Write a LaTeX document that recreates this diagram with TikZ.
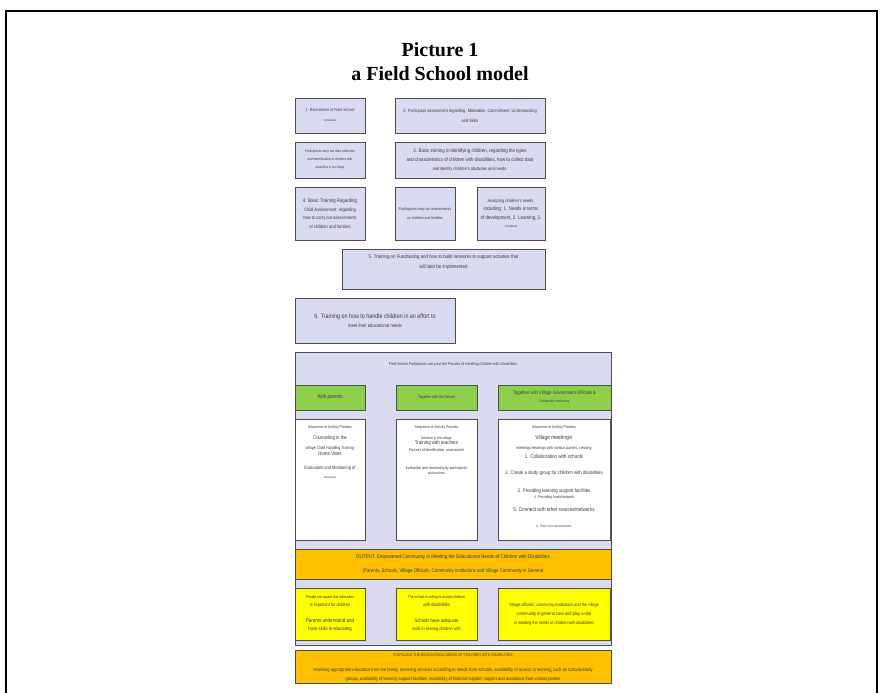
\documentclass[tikz,border=0pt]{standalone}
\usepackage{fontspec}
\setmainfont{Liberation Serif}
\setsansfont[FakeStretch=0.84]{Liberation Sans}
\definecolor{lavfill}{HTML}{D9DCF0}
\definecolor{edgegray}{HTML}{4E4E4E}
\definecolor{txtgray}{HTML}{3A3A3A}
\definecolor{leafgreen}{HTML}{8DCF4A}
\definecolor{ambr}{HTML}{FFC000}
\definecolor{lemon}{HTML}{FFFF00}
\newcommand\fz[2]{\fontsize{#1}{#2}\selectfont}
\newcommand\sz[2]{\sffamily\fontsize{#1}{#2}\selectfont}

\tikzset{
  every node/.style={font=\sffamily, text=txtgray},
  lavbox/.style={draw=edgegray, fill=lavfill, line width=1pt, align=center, inner sep=1pt},
  panel/.style={draw=edgegray, fill=lavfill, line width=0.8pt},
  greenbox/.style={draw=edgegray, fill=leafgreen, line width=1pt, align=center, inner sep=1pt},
  whitebox/.style={draw=edgegray, fill=white, line width=1pt},
  yellowbox/.style={draw=edgegray, fill=lemon, line width=1pt, align=center, inner sep=1pt},
  amberbox/.style={draw=edgegray, fill=ambr, line width=1pt, align=center, inner sep=1pt},
  inlist/.style={align=center, inner sep=0pt, anchor=north}
}

\begin{document}
\begin{tikzpicture}[x=1pt, y=-1pt]
\useasboundingbox (0,0) rectangle (881,693);
% frame round the figure
\draw [line width=2pt] (6,700) -- (6,11) -- (877,11) -- (877,700);

\node [font=\rmfamily\bfseries\fz{20}{24}, text=black] (ttl) at (440,50) {Picture 1};
\node [font=\rmfamily\bfseries\fz{20}{24}, text=black] (subttl) at (440,74) {a Field School model};

% training steps
\node [lavbox, font=\sz{4.3}{10}, minimum width=70, minimum height=35] (recruit) at (330,115.5)
  {1. Recruitment of Field School\\\fz{2.8}{10}Participants};
\node [lavbox, font=\sz{4.6}{10}, minimum width=150, minimum height=35] (assess) at (470,115.5)
  {2. Participant assessment regarding: Motivation, Commitment, Understanding\\and Skills};
\node [lavbox, font=\sz{3.7}{8}, minimum width=70, minimum height=36] (datacol) at (330,160)
  {Participants carry out data collection\\and identification of children with\\\fz{3.3}{8}disabilities in the village};
\node [lavbox, font=\sz{5.2}{9}, minimum width=150, minimum height=36] (basic) at (470,160)
  {3. Basic training in identifying children, regarding the types\\and characteristics of children with disabilities, how to collect data\\\fz{4.6}{9}and identify children's obstacles and needs.};
\node [lavbox, font=\sz{4.8}{8.5}, minimum width=70, minimum height=53] (childass) at (330,213.5)
  {\fz{5.2}{8.5}4. Basic Training Regarding\\Child Assessment: regarding\\how to carry out assessments\\of children and families};
\node [lavbox, font=\sz{4}{9}, minimum width=60, minimum height=53] (famass) at (425,213.5)
  {Participants carry out assessments\\on children and families};
\node [lavbox, font=\sz{5.2}{8.5}, minimum width=68, minimum height=53] (needs) at (511,213.5)
  {\fz{4.6}{8.5}Analyzing children's needs,\\including: 1. Needs in terms\\of development, 2. Learning, 3.\\\fz{3.2}{8.5}Vocational};
\node [lavbox, font=\sz{5.2}{10}, minimum width=203, minimum height=40] (funds) at (443.5,269)
  {5. Training on Fundraising and how to build networks to support activities that\\will later be implemented\\[4pt]\mbox{}};
\node [lavbox, font=\sz{6.4}{9}, minimum width=160, minimum height=45] (handle) at (375,320.5)
  {6. Training on how to handle children in an effort to\\\fz{5}{9}meet their educational needs};

% handling process
\node [panel, minimum width=316, minimum height=293] (process) at (453,498.5) {};
\node [font=\sz{4.1}{6}] (prochead) at (453,364) {Field School Participants carry out the Process of Handling Children with Disabilities};

\node [greenbox, font=\sz{5.4}{7}, minimum width=70, minimum height=25] (gpar) at (330,397.5) {With parents};
\node [greenbox, font=\sz{4}{7}, minimum width=81, minimum height=25] (gsch) at (436.5,397.5) {Together with the School};
\node [greenbox, font=\sz{5}{8}, minimum width=113, minimum height=25] (gvil) at (554.5,397.5)
  {Together with Village Government Officials \&\\\fz{3.5}{8}Community institutions};

\node [whitebox, minimum width=70, minimum height=121] (wpar) at (330,479.5) {};
\node [whitebox, minimum width=81, minimum height=121] (wsch) at (436.5,479.5) {};
\node [whitebox, minimum width=112, minimum height=121] (wvil) at (554,479.5) {};

\node [inlist, font=\sz{4}{6}] (lpar) at (330,425) {Sequence of Activity Process\\[5pt]
  \fz{5.2}{6}Counseling in the\\[4pt]
  \fz{4.3}{6}village Child Handling Training\\
  \fz{5.2}{6}Home Visits\\[8pt]
  \fz{4.8}{6}Evaluation and Monitoring of\\[3pt]
  \fz{2.8}{6}Participants};
\node [inlist, font=\sz{4}{6}] (lsch) at (436.5,425) {Sequence of Activity Process\\[5pt]
  \fz{3.8}{6}Seminar in the village\\[-1pt]
  \fz{5.3}{6}Training with teachers\\[1pt]
  Process of identification, assessment\\[12pt]
  evaluation and monitoring by participants\\[-1pt]
  \fz{3.6}{6}and teachers};
\node [inlist, font=\sz{4}{6}] (lvil) at (554,425) {Sequence of Activity Process\\[5pt]
  \fz{5.8}{6}Village meetings/\\[4pt]
  \fz{4.2}{6}meetings Hearings with various parties, creating\\[3pt]
  \fz{5.4}{6}1. Collaboration with schools\\[10pt]
  \fz{5.1}{6}2. Create a study group for children with disabilities\\[12pt]
  \fz{5.2}{6}3. Providing learning support facilities\\
  4. Providing funds/network\\[7pt]
  \fz{5.5}{6}5. Connect with other sources/networks\\[10pt]
  \fz{3.3}{6}6. There is no discrimination};

\node [amberbox, font=\sz{5.2}{6}, minimum width=316, minimum height=30] (output) at (453,564)
  {\fz{5.4}{6}OUTPUT: Empowered Community in Meeting the Educational Needs of Children with Disabilities\\[8pt]
   (Parents, Schools, Village Officials, Community Institutions and Village Community in General};

\node [yellowbox, font=\sz{5}{8}, minimum width=70, minimum height=52] (ypar) at (330,614)
  {\fz{4}{8}People are aware that education\\\fz{4.6}{8}is important for children\\[8pt]\fz{5.4}{8}Parents understand and\\have skills in educating};
\node [yellowbox, font=\sz{4.8}{8}, minimum width=81, minimum height=52] (ysch) at (436.5,614)
  {\fz{4}{8}The school is willing to accept children\\with disabilities\\[8pt]\fz{5}{8}Schools have adequate\\\fz{4.6}{8}skills in serving children with};
\node [yellowbox, font=\sz{4.5}{9}, minimum width=112, minimum height=52] (yvil) at (554,614)
  {Village officials, community institutions and the village\\\fz{4.8}{9}community in general care and play a role\\in meeting the needs of children with disabilities};

\node [amberbox, minimum width=316, minimum height=33] (fulfil) at (453,666.5) {};
\node [align=center, inner sep=0pt, font=\sz{4.7}{6}] (fulfiltxt) at (453,668)
  {\fz{4}{6}FULFILLING THE EDUCATIONAL NEEDS OF CHILDREN WITH DISABILITIES\\[9pt]
   \fz{4.85}{6}receiving appropriate education from the family, receiving services according to needs from schools, availability of access to learning such as schools/study\\[3pt]
   groups, availability of learning support facilities, availability of financial support, support and assistance from various parties};
\end{tikzpicture}
\end{document}
